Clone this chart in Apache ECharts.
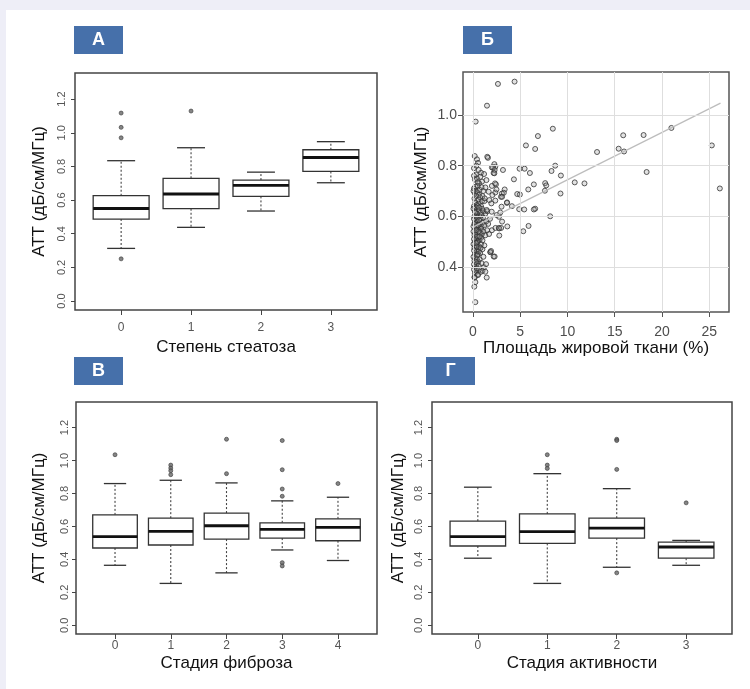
<!DOCTYPE html>
<html>
<head>
<meta charset="utf-8">
<script src="https://cdn.jsdelivr.net/npm/echarts@6/dist/echarts.min.js"></script>
<style>
  body { margin: 0; background: #eeeef7; }
  #paper { position: absolute; left: 6px; top: 10px; right: 0; bottom: 0; background: #fff; }
  #chart { position: absolute; left: 0; top: 0; width: 750px; height: 689px; }
</style>
</head>
<body>
<div id="paper"></div>
<div id="chart"></div>
<script>
// подписи осей
var yTitle = "АТТ (дБ/см/МГц)";
var boxYTicks = [0, 0.2, 0.4, 0.6, 0.8, 1.0, 1.2];

// А: степень стеатоза  [x, min, Q1, median, Q3, max]
var steatosisCats = ["0", "1", "2", "3"];
var steatosisStats = [
  [0, 0.313, 0.487, 0.550, 0.626, 0.834],
  [1, 0.438, 0.549, 0.636, 0.729, 0.911],
  [2, 0.535, 0.622, 0.687, 0.719, 0.766],
  [3, 0.703, 0.770, 0.853, 0.899, 0.947]
];
var steatosisOut = [[0, 1.117], [0, 1.032], [0, 0.970], [0, 0.251], [1, 1.129]];

// В: стадия фиброза
var fibrosisCats = ["0", "1", "2", "3", "4"];
var fibrosisStats = [
  [0, 0.364, 0.469, 0.538, 0.670, 0.860],
  [1, 0.254, 0.487, 0.570, 0.650, 0.880],
  [2, 0.318, 0.523, 0.604, 0.681, 0.864],
  [3, 0.457, 0.529, 0.582, 0.622, 0.755],
  [4, 0.393, 0.513, 0.594, 0.646, 0.777]
];
var fibrosisOut = [
  [0, 1.035], [1, 0.972], [1, 0.954], [1, 0.938], [1, 0.914],
  [2, 1.129], [2, 0.920],
  [3, 1.121], [3, 0.944], [3, 0.827], [3, 0.783], [3, 0.380], [3, 0.360],
  [4, 0.860]
];

// Г: стадия активности
var activityCats = ["0", "1", "2", "3"];
var activityStats = [
  [0, 0.407, 0.481, 0.538, 0.632, 0.838],
  [1, 0.254, 0.497, 0.568, 0.676, 0.920],
  [2, 0.352, 0.529, 0.590, 0.650, 0.829],
  [3, 0.364, 0.407, 0.475, 0.505, 0.515]
];
var activityOut = [
  [1, 1.035], [1, 0.972], [1, 0.952],
  [2, 1.129], [2, 1.121], [2, 0.946], [2, 0.318],
  [3, 0.743]
];

// Б: площадь жировой ткани (%) vs АТТ
var fatXTicks = [0, 5, 10, 15, 20, 25];
var fatYTicks = [0.4, 0.6, 0.8, 1.0];
var fitLine = [[0, 0.557], [26.2, 1.047]];
var fatSpread = [
  [2.64,1.123],[4.40,1.132],[1.48,1.037],[0.28,0.974],[8.45,0.946],[6.87,0.917],[5.6,0.880],[6.58,0.866],
  [21.0,0.949],[18.06,0.921],[15.9,0.920],[15.42,0.867],[15.99,0.856],[13.13,0.854],[25.28,0.880],[18.38,0.775],
  [26.13,0.710],[8.7,0.800],[8.31,0.779],[9.30,0.761],[10.77,0.734],[11.8,0.730],[7.64,0.731],[7.75,0.722],
  [7.61,0.701],[9.26,0.690],[8.17,0.600],[6.02,0.771],[4.93,0.788],[5.46,0.788],[4.33,0.746],[6.44,0.726],
  [5.85,0.706],[4.68,0.688],[4.96,0.686],[6.58,0.630],[6.44,0.627],[5.42,0.627],[4.89,0.628],[5.88,0.562],
  [5.32,0.541],[4.12,0.640],[3.59,0.653],[3.63,0.560],[3.35,0.706],[3.17,0.783],[2.96,0.677],[3.06,0.690],
  [2.36,0.796],[2.18,0.771],[2.43,0.726],[2.36,0.694],[2.89,0.615],[2.75,0.598],[2.78,0.552],[2.78,0.524],
  [2.29,0.441],[1.83,0.459],[1.58,0.831],[2.0,0.793],[1.51,0.835],[2.26,0.806],[2.12,0.793],[1.17,0.767],
  [2.29,0.783],[2.26,0.770],[1.42,0.743],[2.33,0.730],[2.0,0.720],[1.31,0.714],[2.48,0.706],[1.66,0.697],
  [3.26,0.693],[2.05,0.684],[3.08,0.677],[1.24,0.671],[1.73,0.664],[2.36,0.662],[3.6,0.655],[1.94,0.651],
  [3.02,0.638],[1.45,0.625],[1.98,0.618],[2.5,0.605],[3.08,0.579],[2.38,0.554],[2.73,0.554],[2.98,0.554],
  [1.45,0.358],[1.31,0.381],[1.17,0.399],[1.38,0.411],[2.19,0.441],[1.84,0.458],[1.91,0.463],[0.25,0.261],
  [0.14,0.322],[0.25,0.34],[0.18,0.358],[0.53,0.368]
];
var fatCluster = [
  [0.18,0.838],[0.42,0.825],[0.53,0.811],[0.6,0.783],[0.85,0.772],[0.42,0.75],[0.78,0.756],[0.95,0.737],
  [0.25,0.717],[0.1,0.79],[0.3,0.765],[0.2,0.745],[0.65,0.73],[0.1,0.76],[0.5,0.735],[0.35,0.80],
  [0.1,0.71],[0.3,0.70],[0.5,0.72],[0.7,0.705],[0.9,0.715],[0.2,0.69],[0.45,0.695],[1.1,0.70],[0.65,0.685],[0.05,0.70],
  [0.15,0.67],[0.35,0.68],[0.55,0.665],[0.75,0.675],[0.95,0.66],[0.25,0.655],[0.6,0.65],[1.2,0.66],[0.4,0.645],
  [0.85,0.64],[0.1,0.64],[1.0,0.68],
  [0.05,0.63],[0.2,0.62],[0.3,0.635],[0.45,0.61],[0.6,0.625],[0.7,0.6],[0.8,0.615],[0.95,0.63],[1.1,0.62],
  [1.3,0.61],[0.15,0.60],[0.5,0.64],[0.35,0.6],[0.9,0.605],[1.5,0.62],[0.25,0.615],[0.65,0.635],[1.05,0.595],
  [0.1,0.59],[0.2,0.575],[0.3,0.585],[0.4,0.565],[0.5,0.58],[0.6,0.555],[0.7,0.57],[0.8,0.59],[0.9,0.56],
  [1.0,0.575],[1.2,0.565],[1.4,0.58],[0.05,0.56],[0.25,0.55],[0.45,0.595],[0.65,0.585],[0.85,0.55],[1.6,0.57],
  [1.8,0.59],[0.15,0.57],[0.35,0.555],[0.55,0.565],
  [0.05,0.54],[0.15,0.525],[0.25,0.535],[0.35,0.51],[0.45,0.545],[0.55,0.52],[0.65,0.505],[0.75,0.535],
  [0.85,0.515],[0.95,0.53],[1.1,0.54],[1.3,0.525],[1.5,0.545],[1.7,0.53],[2.0,0.545],[0.2,0.5],[0.4,0.52],
  [0.6,0.54],[0.1,0.51],[0.3,0.545],[0.7,0.52],[0.5,0.50],[1.0,0.505],
  [0.05,0.49],[0.15,0.475],[0.25,0.485],[0.35,0.46],[0.45,0.495],[0.55,0.47],[0.65,0.48],[0.75,0.455],
  [0.85,0.49],[1.0,0.47],[1.2,0.485],[0.2,0.45],[0.4,0.48],[0.6,0.46],[0.1,0.465],[0.3,0.495],[0.5,0.45],[0.8,0.475],
  [0.05,0.44],[0.15,0.425],[0.25,0.435],[0.35,0.41],[0.45,0.445],[0.55,0.42],[0.7,0.43],[0.9,0.415],
  [0.2,0.40],[0.4,0.43],[0.6,0.405],[0.1,0.41],[1.1,0.44],[0.3,0.42],
  [0.1,0.39],[0.2,0.375],[0.3,0.385],[0.5,0.37],[0.65,0.39],[0.8,0.38],[0.15,0.36],[0.4,0.395],[1.0,0.385]
];

var FONT = "Liberation Sans";
var chart = echarts.init(document.getElementById("chart"));

/**
 * ящик с усами в стиле R
 */
function boxItem(params, api) {
  var x = api.value(0);
  var lo = api.coord([x, api.value(1)]);
  var q1 = api.coord([x, api.value(2)]);
  var md = api.coord([x, api.value(3)]);
  var q3 = api.coord([x, api.value(4)]);
  var hi = api.coord([x, api.value(5)]);
  var half = api.size([0.8, 0])[0] / 2;
  var cap = api.size([0.4, 0])[0] / 2;
  var cx = md[0];
  var solid = { stroke: "#333", lineWidth: 1.3, fill: null };
  var dash = { stroke: "#444", lineWidth: 1.1, lineDash: [2, 2], fill: null };
  return {
    type: "group",
    children: [
      { type: "line", shape: { x1: cx, y1: q3[1], x2: cx, y2: hi[1] }, style: dash },
      { type: "line", shape: { x1: cx, y1: q1[1], x2: cx, y2: lo[1] }, style: dash },
      { type: "line", shape: { x1: cx - cap, y1: hi[1], x2: cx + cap, y2: hi[1] }, style: solid },
      { type: "line", shape: { x1: cx - cap, y1: lo[1], x2: cx + cap, y2: lo[1] }, style: solid },
      { type: "rect", shape: { x: cx - half, y: q3[1], width: 2 * half, height: q1[1] - q3[1] },
        style: { stroke: "#333", lineWidth: 1.3, fill: "#fff" } },
      { type: "line", shape: { x1: cx - half, y1: md[1], x2: cx + half, y2: md[1] },
        style: { stroke: "#111", lineWidth: 2.8 } }
    ]
  };
}

function boxX(idx, cats, min, max, name, gap, margin) {
  var ticks = cats.map(function (c, i) { return i; });
  return {
    gridIndex: idx, type: "value", min: min, max: max,
    axisLine: { show: false, onZero: false }, splitLine: { show: false },
    axisTick: { show: true, length: 5, customValues: ticks, lineStyle: { color: "#444" } },
    axisLabel: { customValues: ticks, margin: margin, fontSize: 12, color: "#555", fontFamily: FONT,
      formatter: function (v) { return cats[Math.round(v)]; } },
    name: name, nameLocation: "middle", nameGap: gap,
    nameTextStyle: { fontSize: 17, color: "#111", fontFamily: FONT }
  };
}

function boxY(idx, gap, margin) {
  return {
    gridIndex: idx, type: "value", min: -0.053, max: 1.355,
    axisLine: { show: false, onZero: false }, splitLine: { show: false },
    axisTick: { show: true, length: 4, customValues: boxYTicks, lineStyle: { color: "#444" } },
    axisLabel: { customValues: boxYTicks, rotate: 90, margin: margin, fontSize: 11, color: "#555",
      fontFamily: FONT, formatter: function (v) { return v.toFixed(1); } },
    name: yTitle, nameLocation: "middle", nameGap: gap,
    nameTextStyle: { fontSize: 17, color: "#111", fontFamily: FONT }
  };
}

function boxSeries(idx, stats, outs) {
  return [
    { type: "custom", xAxisIndex: idx, yAxisIndex: idx, data: stats, renderItem: boxItem,
      encode: { x: 0, y: [1, 2, 3, 4, 5] }, z: 2 },
    { type: "scatter", xAxisIndex: idx, yAxisIndex: idx, data: outs, symbolSize: 4,
      itemStyle: { color: "#666", borderColor: "#3a3a3a", borderWidth: 0.8 }, z: 3 }
  ];
}

var frame = { show: true, borderColor: "#444", borderWidth: 1.5, backgroundColor: "transparent" };
var tags = [["А", 74, 26], ["Б", 463, 26], ["В", 74, 357], ["Г", 426, 357]];

var option = {
  animation: false,
  grid: [
    Object.assign({ left: 75, top: 73, width: 302, height: 237 }, frame),
    Object.assign({ left: 463, top: 72, width: 266, height: 240 }, frame, { borderColor: "#555" }),
    Object.assign({ left: 76, top: 402, width: 301, height: 232 }, frame),
    Object.assign({ left: 432, top: 402, width: 300, height: 232 }, frame)
  ],
  xAxis: [
    boxX(0, steatosisCats, -0.66, 3.66, "Степень стеатоза", 29, 12),
    {
      gridIndex: 1, type: "value", min: -1.06, max: 27.1,
      axisLine: { show: false, onZero: false }, splitLine: { show: false },
      axisTick: { show: true, length: 5, customValues: fatXTicks, lineStyle: { color: "#555" } },
      axisLabel: { customValues: fatXTicks, margin: 13, fontSize: 14, color: "#4d4d4d", fontFamily: FONT },
      name: "Площадь жировой ткани (%)", nameLocation: "middle", nameGap: 27,
      nameTextStyle: { fontSize: 17, color: "#111", fontFamily: FONT }
    },
    boxX(2, fibrosisCats, -0.7, 4.7, "Стадия фиброза", 21, 6),
    boxX(3, activityCats, -0.66, 3.66, "Стадия активности", 21, 6)
  ],
  yAxis: [
    boxY(0, 27, 8),
    {
      gridIndex: 1, type: "value", min: 0.222, max: 1.17,
      axisLine: { show: false, onZero: false }, splitLine: { show: false },
      axisTick: { show: true, length: 5, customValues: fatYTicks, lineStyle: { color: "#555" } },
      axisLabel: { customValues: fatYTicks, margin: 6, fontSize: 14, color: "#4d4d4d", fontFamily: FONT,
        formatter: function (v) { return v.toFixed(1); } },
      name: yTitle, nameLocation: "middle", nameGap: 33,
      nameTextStyle: { fontSize: 17, color: "#111", fontFamily: FONT }
    },
    boxY(2, 28, 6),
    boxY(3, 25, 8)
  ],
  graphic: tags.map(function (t) {
    return {
      type: "group", left: t[1], top: t[2],
      children: [
        { type: "rect", shape: { x: 0, y: 0, width: 49, height: 28 }, style: { fill: "#4670aa" } },
        { type: "text", x: 24.5, y: 14, style: { text: t[0], fill: "#fff", font: "bold 18px " + FONT,
          textAlign: "center", textVerticalAlign: "middle" } }
      ]
    };
  }),
  series: [].concat(
    boxSeries(0, steatosisStats, steatosisOut),
    boxSeries(2, fibrosisStats, fibrosisOut),
    boxSeries(3, activityStats, activityOut),
    [
      {
        type: "line", xAxisIndex: 1, yAxisIndex: 1, data: fitLine, showSymbol: false, z: 1,
        lineStyle: { opacity: 0 },
        markLine: {
          silent: true, symbol: ["none", "none"], label: { show: false },
          lineStyle: { color: "#dedede", type: "solid", width: 1 },
          data: fatXTicks.map(function (v) { return { xAxis: v }; })
            .concat(fatYTicks.map(function (v) { return { yAxis: v }; }))
        }
      },
      {
        type: "scatter", xAxisIndex: 1, yAxisIndex: 1, data: fatCluster.concat(fatSpread), symbolSize: 5,
        itemStyle: { color: "rgba(150,150,150,0.35)", borderColor: "#333", borderWidth: 1 }, z: 2
      },
      {
        type: "line", xAxisIndex: 1, yAxisIndex: 1, data: fitLine, showSymbol: false, z: 3,
        lineStyle: { color: "#bdbdbd", width: 1.3 }
      }
    ]
  )
};
chart.setOption(option);
</script>
</body>
</html>
